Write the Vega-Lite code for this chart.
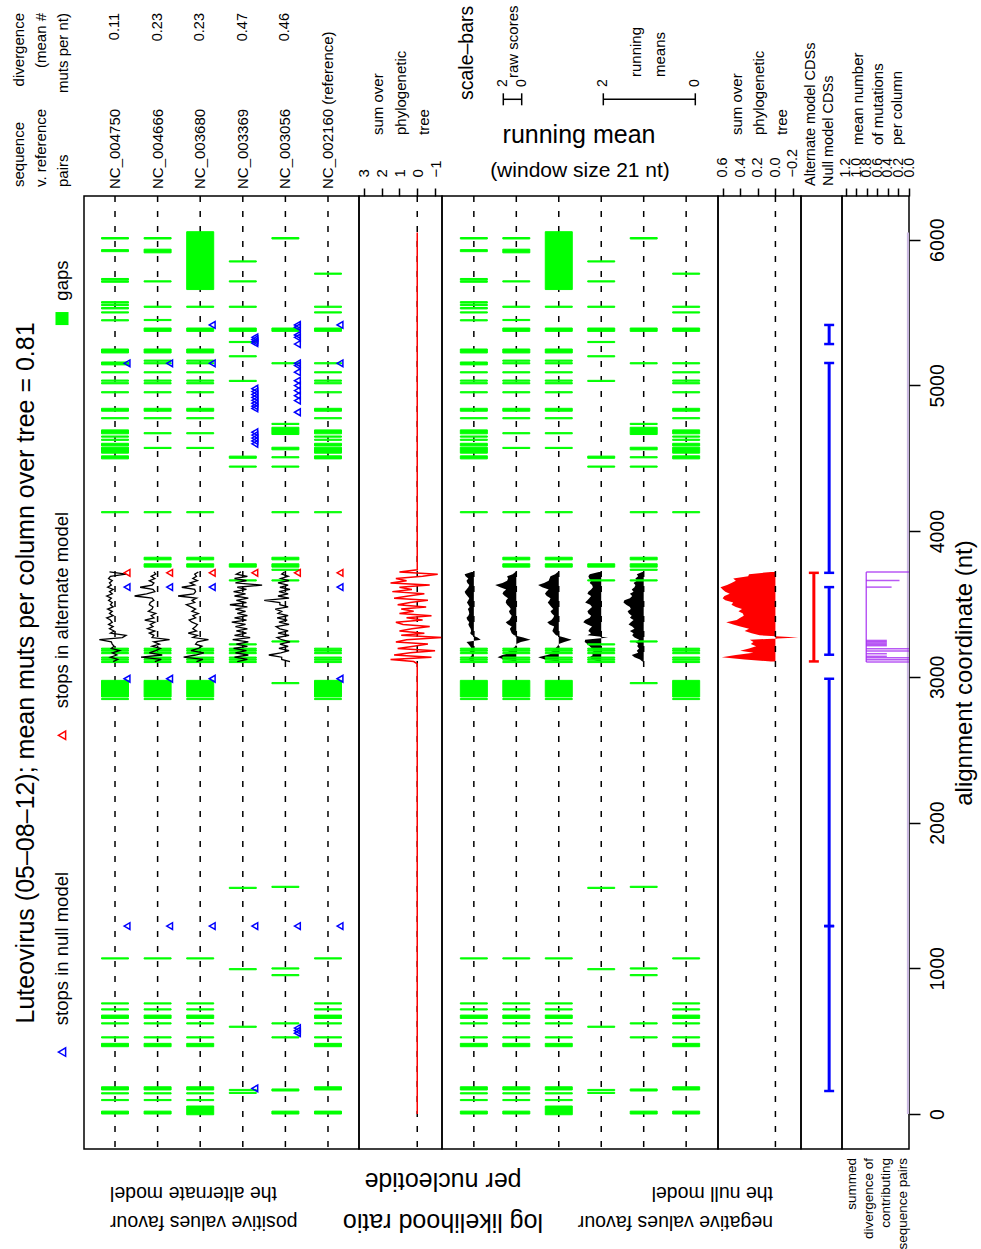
{
"$schema":"https://vega.github.io/schema/vega-lite/v6.json",
"padding":0,
"background":"white",
"columns":7,
"spacing":0,
"bounds":"flush",
"align":"each",
"config":{"font":"Liberation Sans","view":{"stroke":null},"axis":{"grid":false,"domain":false,"tickColor":"black","tickWidth":1.5,"labelColor":"black","labelFont":"Liberation Sans","titleFont":"Liberation Sans","titleColor":"black","titleFontWeight":"normal","labelOverlap":false,"labelFlush":false,"labelBound":false},"text":{"color":"black","font":"Liberation Sans"}},
"datasets":{
"one":[{}],
"rawbar":[{"lo":0,"hi":2}],
"meanbar":[{"lo":0,"hi":2}],
"tracks":[{"seq":"NC_004750","label":"NC_004750","div":"0.11"},{"seq":"NC_004666","label":"NC_004666","div":"0.23"},{"seq":"NC_003680","label":"NC_003680","div":"0.23"},{"seq":"NC_003369","label":"NC_003369","div":"0.47"},{"seq":"NC_003056","label":"NC_003056","div":"0.46"},{"seq":"NC_002160","label":"NC_002160 (reference)","div":""}],
"gaps":[
{"seq":"NC_004750","s":6005,"e":6015},{"seq":"NC_004750","s":5918,"e":5932},{"seq":"NC_004750","s":5724,"e":5734},{"seq":"NC_004750","s":5708,"e":5718},{"seq":"NC_004750","s":5565,"e":5575},{"seq":"NC_004750","s":5548,"e":5556},{"seq":"NC_004750","s":5525,"e":5535},{"seq":"NC_004750","s":5497,"e":5505},{"seq":"NC_004750","s":5443,"e":5451},{"seq":"NC_004750","s":5223,"e":5250},{"seq":"NC_004750","s":5141,"e":5161},{"seq":"NC_004750","s":5086,"e":5094},{"seq":"NC_004750","s":5029,"e":5037},{"seq":"NC_004750","s":5011,"e":5019},{"seq":"NC_004750","s":4949,"e":4957},{"seq":"NC_004750","s":4823,"e":4843},{"seq":"NC_004750","s":4771,"e":4779},{"seq":"NC_004750","s":4668,"e":4695},{"seq":"NC_004750","s":4645,"e":4653},{"seq":"NC_004750","s":4623,"e":4631},{"seq":"NC_004750","s":4585,"e":4603},{"seq":"NC_004750","s":4535,"e":4576},{"seq":"NC_004750","s":4496,"e":4517},{"seq":"NC_004750","s":4126,"e":4134},{"seq":"NC_004750","s":3189,"e":3197},{"seq":"NC_004750","s":3176,"e":3184},{"seq":"NC_004750","s":3159,"e":3167},{"seq":"NC_004750","s":3128,"e":3136},{"seq":"NC_004750","s":3114,"e":3122},{"seq":"NC_004750","s":3098,"e":3106},{"seq":"NC_004750","s":2862,"e":2976},{"seq":"NC_004750","s":2844,"e":2852},{"seq":"NC_004750","s":1064,"e":1072},{"seq":"NC_004750","s":755,"e":763},{"seq":"NC_004750","s":714,"e":722},{"seq":"NC_004750","s":656,"e":679},{"seq":"NC_004750","s":618,"e":626},{"seq":"NC_004750","s":522,"e":530},{"seq":"NC_004750","s":462,"e":485},{"seq":"NC_004750","s":165,"e":187},{"seq":"NC_004750","s":138,"e":146},{"seq":"NC_004750","s":92,"e":100},{"seq":"NC_004750","s":0,"e":20},
{"seq":"NC_004666","s":6005,"e":6015},{"seq":"NC_004666","s":5910,"e":5935},{"seq":"NC_004666","s":5710,"e":5718},{"seq":"NC_004666","s":5536,"e":5544},{"seq":"NC_004666","s":5445,"e":5453},{"seq":"NC_004666","s":5371,"e":5394},{"seq":"NC_004666","s":5223,"e":5250},{"seq":"NC_004666","s":5166,"e":5174},{"seq":"NC_004666","s":5148,"e":5156},{"seq":"NC_004666","s":5086,"e":5094},{"seq":"NC_004666","s":5029,"e":5037},{"seq":"NC_004666","s":5011,"e":5019},{"seq":"NC_004666","s":4949,"e":4957},{"seq":"NC_004666","s":4823,"e":4843},{"seq":"NC_004666","s":4771,"e":4779},{"seq":"NC_004666","s":4668,"e":4676},{"seq":"NC_004666","s":4567,"e":4575},{"seq":"NC_004666","s":4126,"e":4134},{"seq":"NC_004666","s":3803,"e":3821},{"seq":"NC_004666","s":3753,"e":3776},{"seq":"NC_004666","s":3189,"e":3197},{"seq":"NC_004666","s":3176,"e":3184},{"seq":"NC_004666","s":3159,"e":3167},{"seq":"NC_004666","s":3128,"e":3136},{"seq":"NC_004666","s":3114,"e":3122},{"seq":"NC_004666","s":3098,"e":3106},{"seq":"NC_004666","s":2862,"e":2976},{"seq":"NC_004666","s":2844,"e":2852},{"seq":"NC_004666","s":1064,"e":1072},{"seq":"NC_004666","s":755,"e":763},{"seq":"NC_004666","s":714,"e":722},{"seq":"NC_004666","s":656,"e":679},{"seq":"NC_004666","s":618,"e":626},{"seq":"NC_004666","s":522,"e":530},{"seq":"NC_004666","s":462,"e":485},{"seq":"NC_004666","s":165,"e":187},{"seq":"NC_004666","s":138,"e":146},{"seq":"NC_004666","s":92,"e":100},{"seq":"NC_004666","s":0,"e":20},
{"seq":"NC_003680","s":5658,"e":6055},{"seq":"NC_003680","s":5536,"e":5544},{"seq":"NC_003680","s":5371,"e":5394},{"seq":"NC_003680","s":5223,"e":5250},{"seq":"NC_003680","s":5166,"e":5174},{"seq":"NC_003680","s":5148,"e":5156},{"seq":"NC_003680","s":5086,"e":5094},{"seq":"NC_003680","s":5029,"e":5037},{"seq":"NC_003680","s":5011,"e":5019},{"seq":"NC_003680","s":4949,"e":4957},{"seq":"NC_003680","s":4823,"e":4843},{"seq":"NC_003680","s":4771,"e":4779},{"seq":"NC_003680","s":4668,"e":4676},{"seq":"NC_003680","s":4567,"e":4575},{"seq":"NC_003680","s":4126,"e":4134},{"seq":"NC_003680","s":3803,"e":3821},{"seq":"NC_003680","s":3753,"e":3776},{"seq":"NC_003680","s":3189,"e":3197},{"seq":"NC_003680","s":3176,"e":3184},{"seq":"NC_003680","s":3159,"e":3167},{"seq":"NC_003680","s":3128,"e":3136},{"seq":"NC_003680","s":3114,"e":3122},{"seq":"NC_003680","s":3098,"e":3106},{"seq":"NC_003680","s":2862,"e":2976},{"seq":"NC_003680","s":2844,"e":2852},{"seq":"NC_003680","s":1064,"e":1072},{"seq":"NC_003680","s":755,"e":763},{"seq":"NC_003680","s":714,"e":722},{"seq":"NC_003680","s":656,"e":679},{"seq":"NC_003680","s":618,"e":626},{"seq":"NC_003680","s":522,"e":530},{"seq":"NC_003680","s":462,"e":485},{"seq":"NC_003680","s":165,"e":187},{"seq":"NC_003680","s":138,"e":146},{"seq":"NC_003680","s":92,"e":100},{"seq":"NC_003680","s":-5,"e":55},
{"seq":"NC_003369","s":5847,"e":5855},{"seq":"NC_003369","s":5710,"e":5718},{"seq":"NC_003369","s":5536,"e":5544},{"seq":"NC_003369","s":5371,"e":5394},{"seq":"NC_003369","s":5294,"e":5302},{"seq":"NC_003369","s":5196,"e":5204},{"seq":"NC_003369","s":5027,"e":5035},{"seq":"NC_003369","s":4500,"e":4515},{"seq":"NC_003369","s":4439,"e":4447},{"seq":"NC_003369","s":3753,"e":3776},{"seq":"NC_003369","s":3658,"e":3666},{"seq":"NC_003369","s":3219,"e":3227},{"seq":"NC_003369","s":3189,"e":3197},{"seq":"NC_003369","s":3176,"e":3184},{"seq":"NC_003369","s":3159,"e":3167},{"seq":"NC_003369","s":3128,"e":3136},{"seq":"NC_003369","s":3114,"e":3122},{"seq":"NC_003369","s":3098,"e":3106},{"seq":"NC_003369","s":1548,"e":1556},{"seq":"NC_003369","s":990,"e":998},{"seq":"NC_003369","s":595,"e":603},{"seq":"NC_003369","s":161,"e":169},{"seq":"NC_003369","s":141,"e":149},
{"seq":"NC_003056","s":6005,"e":6015},{"seq":"NC_003056","s":5371,"e":5394},{"seq":"NC_003056","s":5148,"e":5156},{"seq":"NC_003056","s":4732,"e":4740},{"seq":"NC_003056","s":4663,"e":4713},{"seq":"NC_003056","s":4558,"e":4576},{"seq":"NC_003056","s":4503,"e":4511},{"seq":"NC_003056","s":4439,"e":4447},{"seq":"NC_003056","s":4126,"e":4134},{"seq":"NC_003056","s":3803,"e":3821},{"seq":"NC_003056","s":3753,"e":3776},{"seq":"NC_003056","s":3731,"e":3739},{"seq":"NC_003056","s":3658,"e":3666},{"seq":"NC_003056","s":3239,"e":3247},{"seq":"NC_003056","s":2953,"e":2961},{"seq":"NC_003056","s":1555,"e":1563},{"seq":"NC_003056","s":995,"e":1003},{"seq":"NC_003056","s":949,"e":957},{"seq":"NC_003056","s":618,"e":626},{"seq":"NC_003056","s":522,"e":530},{"seq":"NC_003056","s":158,"e":172},{"seq":"NC_003056","s":0,"e":20},
{"seq":"NC_002160","s":5763,"e":5771},{"seq":"NC_002160","s":5536,"e":5544},{"seq":"NC_002160","s":5497,"e":5505},{"seq":"NC_002160","s":5371,"e":5394},{"seq":"NC_002160","s":5148,"e":5156},{"seq":"NC_002160","s":5086,"e":5094},{"seq":"NC_002160","s":5029,"e":5037},{"seq":"NC_002160","s":5011,"e":5019},{"seq":"NC_002160","s":4949,"e":4957},{"seq":"NC_002160","s":4823,"e":4843},{"seq":"NC_002160","s":4771,"e":4779},{"seq":"NC_002160","s":4668,"e":4695},{"seq":"NC_002160","s":4645,"e":4653},{"seq":"NC_002160","s":4623,"e":4631},{"seq":"NC_002160","s":4585,"e":4603},{"seq":"NC_002160","s":4535,"e":4576},{"seq":"NC_002160","s":4496,"e":4517},{"seq":"NC_002160","s":4126,"e":4134},{"seq":"NC_002160","s":3189,"e":3197},{"seq":"NC_002160","s":3176,"e":3184},{"seq":"NC_002160","s":3159,"e":3167},{"seq":"NC_002160","s":3128,"e":3136},{"seq":"NC_002160","s":3114,"e":3122},{"seq":"NC_002160","s":3098,"e":3106},{"seq":"NC_002160","s":2862,"e":2976},{"seq":"NC_002160","s":2844,"e":2852},{"seq":"NC_002160","s":1064,"e":1072},{"seq":"NC_002160","s":755,"e":763},{"seq":"NC_002160","s":714,"e":722},{"seq":"NC_002160","s":656,"e":679},{"seq":"NC_002160","s":618,"e":626},{"seq":"NC_002160","s":522,"e":530},{"seq":"NC_002160","s":462,"e":485},{"seq":"NC_002160","s":165,"e":187},{"seq":"NC_002160","s":0,"e":20}
],
"stops":[
{"seq":"NC_004750","pos":5152,"m":"null"},{"seq":"NC_004750","pos":3616,"m":"null"},{"seq":"NC_004750","pos":2987,"m":"null"},{"seq":"NC_004750","pos":1290,"m":"null"},{"seq":"NC_004750","pos":3714,"m":"alt"},
{"seq":"NC_004666","pos":5152,"m":"null"},{"seq":"NC_004666","pos":3616,"m":"null"},{"seq":"NC_004666","pos":2987,"m":"null"},{"seq":"NC_004666","pos":1290,"m":"null"},{"seq":"NC_004666","pos":3714,"m":"alt"},
{"seq":"NC_003680","pos":5415,"m":"null"},{"seq":"NC_003680","pos":5152,"m":"null"},{"seq":"NC_003680","pos":3616,"m":"null"},{"seq":"NC_003680","pos":2987,"m":"null"},{"seq":"NC_003680","pos":1290,"m":"null"},{"seq":"NC_003680","pos":3714,"m":"alt"},
{"seq":"NC_003369","pos":5330,"m":"null"},{"seq":"NC_003369","pos":5316,"m":"null"},{"seq":"NC_003369","pos":5302,"m":"null"},{"seq":"NC_003369","pos":5290,"m":"null"},{"seq":"NC_003369","pos":4978,"m":"null"},{"seq":"NC_003369","pos":4958,"m":"null"},{"seq":"NC_003369","pos":4938,"m":"null"},{"seq":"NC_003369","pos":4918,"m":"null"},{"seq":"NC_003369","pos":4898,"m":"null"},{"seq":"NC_003369","pos":4878,"m":"null"},{"seq":"NC_003369","pos":4858,"m":"null"},{"seq":"NC_003369","pos":4842,"m":"null"},{"seq":"NC_003369","pos":4679,"m":"null"},{"seq":"NC_003369","pos":4659,"m":"null"},{"seq":"NC_003369","pos":4639,"m":"null"},{"seq":"NC_003369","pos":4619,"m":"null"},{"seq":"NC_003369","pos":4599,"m":"null"},{"seq":"NC_003369","pos":1290,"m":"null"},{"seq":"NC_003369","pos":176,"m":"null"},{"seq":"NC_003369","pos":3714,"m":"alt"},
{"seq":"NC_003056","pos":5415,"m":"null"},{"seq":"NC_003056","pos":5400,"m":"null"},{"seq":"NC_003056","pos":5346,"m":"null"},{"seq":"NC_003056","pos":5330,"m":"null"},{"seq":"NC_003056","pos":5284,"m":"null"},{"seq":"NC_003056","pos":5152,"m":"null"},{"seq":"NC_003056","pos":5136,"m":"null"},{"seq":"NC_003056","pos":5091,"m":"null"},{"seq":"NC_003056","pos":5033,"m":"null"},{"seq":"NC_003056","pos":4999,"m":"null"},{"seq":"NC_003056","pos":4965,"m":"null"},{"seq":"NC_003056","pos":4930,"m":"null"},{"seq":"NC_003056","pos":4896,"m":"null"},{"seq":"NC_003056","pos":4816,"m":"null"},{"seq":"NC_003056","pos":1290,"m":"null"},{"seq":"NC_003056","pos":590,"m":"null"},{"seq":"NC_003056","pos":572,"m":"null"},{"seq":"NC_003056","pos":555,"m":"null"},{"seq":"NC_003056","pos":3714,"m":"alt"},
{"seq":"NC_002160","pos":5415,"m":"null"},{"seq":"NC_002160","pos":5152,"m":"null"},{"seq":"NC_002160","pos":3616,"m":"null"},{"seq":"NC_002160","pos":2987,"m":"null"},{"seq":"NC_002160","pos":1290,"m":"null"},{"seq":"NC_002160","pos":3714,"m":"alt"}
],
"scores":[
{"pos":3105,"r1":0.2,"r2":0.3,"r3":0.4,"r4":0.6,"r5":-0.5,"m1":0.05,"m2":0.02,"m3":0.02,"m4":0.05,"m5":0.03,"ms":0.05},
{"pos":3120,"r1":-0.3,"r2":-0.4,"r3":-0.3,"r4":-0.5,"r5":0.4,"m1":0.12,"m2":0.25,"m3":0.3,"m4":0.2,"m5":0.08,"ms":0.35},
{"pos":3135,"r1":0.5,"r2":1.8,"r3":1.8,"r4":0.9,"r5":0.4,"m1":0.08,"m2":0.41,"m3":0.45,"m4":0.25,"m5":0.2,"ms":0.61},
{"pos":3150,"r1":-0.2,"r2":-0.5,"r3":0.5,"r4":-0.6,"r5":1.8,"m1":0.04,"m2":0.3,"m3":0.25,"m4":0.18,"m5":0.26,"ms":0.45},
{"pos":3165,"r1":0.3,"r2":0.9,"r3":-0.4,"r4":0.8,"r5":0.5,"m1":0.06,"m2":0.12,"m3":0.1,"m4":0.22,"m5":0.12,"ms":0.25},
{"pos":3180,"r1":-0.5,"r2":0.2,"r3":1.0,"r4":-0.4,"r5":-0.4,"m1":0.1,"m2":0.2,"m3":0.18,"m4":0.15,"m5":0.15,"ms":0.4},
{"pos":3195,"r1":0.4,"r2":-0.3,"r3":0.2,"r4":1.0,"r5":0.7,"m1":0.05,"m2":0.08,"m3":0.08,"m4":0.2,"m5":0.1,"ms":0.3},
{"pos":3210,"r1":0.1,"r2":0.6,"r3":-0.2,"r4":-0.5,"r5":-0.3,"m1":0.08,"m2":0.02,"m3":0.03,"m4":0.25,"m5":0.14,"ms":0.22},
{"pos":3225,"r1":0.3,"r2":-0.2,"r3":0.5,"r4":0.7,"r5":0.6,"m1":0.12,"m2":0.0,"m3":0.0,"m4":0.3,"m5":0.12,"ms":0.28},
{"pos":3240,"r1":0.4,"r2":0.4,"r3":0.3,"r4":-0.6,"r5":-0.5,"m1":0.16,"m2":-0.1,"m3":-0.12,"m4":0.36,"m5":0.18,"ms":0.25},
{"pos":3255,"r1":1.7,"r2":-1.3,"r3":-0.9,"r4":1.1,"r5":0.4,"m1":-0.15,"m2":-0.31,"m3":-0.28,"m4":0.35,"m5":0.1,"ms":0.29},
{"pos":3270,"r1":-0.8,"r2":0.6,"r3":0.8,"r4":-0.8,"r5":0.9,"m1":-0.08,"m2":-0.15,"m3":-0.12,"m4":-0.15,"m5":0.2,"ms":-0.26},
{"pos":3285,"r1":-1.2,"r2":0.4,"r3":0.3,"r4":0.9,"r5":-0.4,"m1":0.04,"m2":0.05,"m3":0.06,"m4":0.3,"m5":0.25,"ms":0.18},
{"pos":3300,"r1":0.5,"r2":0.9,"r3":1.3,"r4":-0.4,"r5":0.8,"m1":0.08,"m2":0.1,"m3":0.1,"m4":0.22,"m5":0.22,"ms":0.27},
{"pos":3315,"r1":0.1,"r2":0.3,"r3":0.4,"r4":0.7,"r5":-0.3,"m1":0.06,"m2":0.12,"m3":0.14,"m4":0.28,"m5":0.3,"ms":0.35},
{"pos":3330,"r1":0.6,"r2":1.1,"r3":0.8,"r4":-0.5,"r5":0.6,"m1":0.07,"m2":0.14,"m3":0.12,"m4":0.25,"m5":0.2,"ms":0.3},
{"pos":3345,"r1":0.2,"r2":0.5,"r3":0.5,"r4":0.8,"r5":1.0,"m1":0.1,"m2":0.1,"m3":0.1,"m4":0.2,"m5":0.25,"ms":0.4},
{"pos":3360,"r1":0.7,"r2":0.8,"r3":0.3,"r4":-0.3,"r5":-0.4,"m1":0.12,"m2":0.18,"m3":0.2,"m4":0.3,"m5":0.33,"ms":0.48},
{"pos":3375,"r1":0.3,"r2":0.3,"r3":0.9,"r4":1.2,"r5":0.7,"m1":0.1,"m2":0.23,"m3":0.25,"m4":0.39,"m5":0.28,"ms":0.56},
{"pos":3390,"r1":0.5,"r2":1.4,"r3":1.2,"r4":-0.4,"r5":-0.2,"m1":0.14,"m2":0.15,"m3":0.16,"m4":0.35,"m5":0.22,"ms":0.44},
{"pos":3405,"r1":0.9,"r2":0.4,"r3":0.5,"r4":0.9,"r5":0.9,"m1":0.16,"m2":0.12,"m3":0.12,"m4":0.25,"m5":0.3,"ms":0.4},
{"pos":3420,"r1":0.2,"r2":0.7,"r3":0.8,"r4":-0.5,"r5":-0.3,"m1":0.12,"m2":0.1,"m3":0.1,"m4":0.22,"m5":0.26,"ms":0.36},
{"pos":3435,"r1":0.6,"r2":0.2,"r3":0.2,"r4":0.6,"r5":0.8,"m1":0.1,"m2":0.14,"m3":0.15,"m4":0.28,"m5":0.32,"ms":0.37},
{"pos":3450,"r1":0.3,"r2":1.0,"r3":0.9,"r4":-0.3,"r5":0.4,"m1":0.11,"m2":0.16,"m3":0.18,"m4":0.3,"m5":0.35,"ms":0.42},
{"pos":3465,"r1":0.8,"r2":0.6,"r3":0.5,"r4":0.8,"r5":1.1,"m1":0.13,"m2":0.12,"m3":0.12,"m4":0.25,"m5":0.28,"ms":0.38},
{"pos":3480,"r1":0.2,"r2":0.5,"r3":1.0,"r4":-0.5,"r5":-0.3,"m1":0.09,"m2":0.15,"m3":0.16,"m4":0.2,"m5":0.3,"ms":0.45},
{"pos":3495,"r1":0.5,"r2":0.9,"r3":1.5,"r4":1.4,"r5":0.6,"m1":0.12,"m2":0.2,"m3":0.2,"m4":0.24,"m5":0.38,"ms":0.5},
{"pos":3510,"r1":0.3,"r2":0.8,"r3":0.6,"r4":-0.4,"r5":0.6,"m1":0.15,"m2":0.23,"m3":0.24,"m4":0.35,"m5":0.44,"ms":0.48},
{"pos":3525,"r1":0.7,"r2":0.4,"r3":0.9,"r4":0.7,"r5":2.3,"m1":0.12,"m2":0.22,"m3":0.2,"m4":0.3,"m5":0.42,"ms":0.57},
{"pos":3540,"r1":0.4,"r2":0.6,"r3":0.4,"r4":-0.6,"r5":-0.4,"m1":0.1,"m2":0.18,"m3":0.18,"m4":0.26,"m5":0.3,"ms":0.6},
{"pos":3555,"r1":0.9,"r2":2.5,"r3":2.4,"r4":0.9,"r5":0.8,"m1":0.14,"m2":0.25,"m3":0.26,"m4":0.22,"m5":0.25,"ms":0.58},
{"pos":3570,"r1":0.3,"r2":1.2,"r3":0.7,"r4":-0.3,"r5":-0.3,"m1":0.18,"m2":0.3,"m3":0.3,"m4":0.3,"m5":0.3,"ms":0.52},
{"pos":3585,"r1":0.6,"r2":0.3,"r3":0.5,"r4":1.0,"r5":0.7,"m1":0.2,"m2":0.28,"m3":0.27,"m4":0.28,"m5":0.22,"ms":0.57},
{"pos":3600,"r1":0.2,"r2":0.5,"r3":0.6,"r4":-0.4,"r5":-0.5,"m1":0.16,"m2":0.22,"m3":0.22,"m4":0.22,"m5":0.26,"ms":0.6},
{"pos":3615,"r1":0.8,"r2":1.9,"r3":2.0,"r4":0.6,"r5":0.6,"m1":0.12,"m2":0.35,"m3":0.36,"m4":0.18,"m5":0.2,"ms":0.625},
{"pos":3630,"r1":0.4,"r2":0.6,"r3":0.6,"r4":-2.1,"r5":-0.3,"m1":0.1,"m2":0.46,"m3":0.45,"m4":0.2,"m5":0.18,"ms":0.55},
{"pos":3645,"r1":0.6,"r2":0.4,"r3":1.1,"r4":0.8,"r5":0.8,"m1":0.14,"m2":0.3,"m3":0.32,"m4":0.25,"m5":0.22,"ms":0.5},
{"pos":3660,"r1":0.3,"r2":0.9,"r3":0.3,"r4":-0.4,"r5":-0.4,"m1":0.16,"m2":0.2,"m3":0.22,"m4":0.22,"m5":0.15,"ms":0.45},
{"pos":3675,"r1":0.7,"r2":0.3,"r3":0.8,"r4":0.9,"r5":0.5,"m1":0.12,"m2":0.18,"m3":0.2,"m4":0.26,"m5":0.18,"ms":0.48},
{"pos":3690,"r1":0.5,"r2":0.7,"r3":0.4,"r4":-0.5,"r5":-0.3,"m1":0.18,"m2":0.2,"m3":0.18,"m4":0.28,"m5":0.12,"ms":0.31},
{"pos":3705,"r1":-1.2,"r2":0.2,"r3":0.6,"r4":0.7,"r5":0.4,"m1":0.2,"m2":0.08,"m3":0.08,"m4":0.25,"m5":0.15,"ms":0.3},
{"pos":3720,"r1":0.6,"r2":0.4,"r3":0.2,"r4":0.2,"r5":0.1,"m1":0.05,"m2":0.02,"m3":0.02,"m4":0.05,"m5":0.03,"ms":0.05}
],
"sumline":[{"pos":0,"rs":0},{"pos":3090,"rs":0},{"pos":3105,"rs":0.2},{"pos":3120,"rs":1.5},{"pos":3135,"rs":-0.8},{"pos":3150,"rs":1.3},{"pos":3165,"rs":0.4},{"pos":3180,"rs":-1.0},{"pos":3195,"rs":1.1},{"pos":3210,"rs":0.2},{"pos":3225,"rs":-0.6},{"pos":3240,"rs":1.2},{"pos":3255,"rs":0.6},{"pos":3270,"rs":-1.4},{"pos":3285,"rs":0.9},{"pos":3300,"rs":-0.4},{"pos":3315,"rs":1.0},{"pos":3330,"rs":0.3},{"pos":3345,"rs":-0.7},{"pos":3360,"rs":0.8},{"pos":3375,"rs":1.2},{"pos":3390,"rs":-0.3},{"pos":3405,"rs":0.6},{"pos":3420,"rs":-0.8},{"pos":3435,"rs":1.0},{"pos":3450,"rs":0.2},{"pos":3465,"rs":0.9},{"pos":3480,"rs":-0.5},{"pos":3495,"rs":1.1},{"pos":3510,"rs":0.4},{"pos":3525,"rs":-0.6},{"pos":3540,"rs":1.3},{"pos":3555,"rs":0.5},{"pos":3570,"rs":-0.4},{"pos":3585,"rs":1.4},{"pos":3600,"rs":0.3},{"pos":3615,"rs":1.0},{"pos":3630,"rs":-0.7},{"pos":3645,"rs":1.5},{"pos":3660,"rs":0.6},{"pos":3675,"rs":1.2},{"pos":3690,"rs":-0.3},{"pos":3705,"rs":-1.15},{"pos":3720,"rs":1.0},{"pos":3735,"rs":0},{"pos":6050,"rs":0}],
"cds":[{"model":"alt","s":3106,"e":3714},{"model":"null","s":158,"e":1290},{"model":"null","s":1290,"e":2987},{"model":"null","s":3152,"e":3616},{"model":"null","s":3714,"e":5154},{"model":"null","s":5284,"e":5415}],
"purple":[{"pos":3719,"a":0.81,"v":0},{"pos":3662,"a":0.81,"v":0.18},{"pos":3616,"a":0.81,"v":0.33},{"pos":3250,"a":0.81,"v":0.42},{"pos":3241,"a":0.81,"v":0.42},{"pos":3232,"a":0.81,"v":0.42},{"pos":3223,"a":0.81,"v":0.42},{"pos":3214,"a":0.81,"v":0.42},{"pos":3193,"a":0.81,"v":0},{"pos":3177,"a":0.81,"v":0},{"pos":3159,"a":0.81,"v":0.42},{"pos":3141,"a":0.81,"v":0.42},{"pos":3132,"a":0.81,"v":0},{"pos":3118,"a":0.81,"v":0},{"pos":3102,"a":0.81,"v":0}],
"purpleframe":[{"s":3102,"e":3719,"v":0.81}],
"strip":[{"s":0,"e":6050,"v":0.04,"z":0}]
},
"concat":[
{"width":84,"height":196,"data":{"name":"one"},"layer":[
 {"mark":{"type":"text","angle":270,"align":"left","baseline":"middle","fontSize":15,"lineHeight":22},"encoding":{"x":{"datum":18.5,"type":"quantitative","scale":{"domain":[0,84]},"axis":null},"y":{"datum":9,"type":"quantitative","scale":{"domain":[0,196]},"axis":null},"text":{"value":["sequence","v. reference","pairs"]}}},
 {"mark":{"type":"text","angle":270,"align":"right","baseline":"middle","fontSize":15,"lineHeight":22},"encoding":{"x":{"datum":18.5,"type":"quantitative","scale":{"domain":[0,84]},"axis":null},"y":{"datum":183,"type":"quantitative","scale":{"domain":[0,196]},"axis":null},"text":{"value":["divergence","(mean #","muts per nt)"]}}}
]},
{"width":275,"height":196,"data":{"name":"tracks"},"layer":[
 {"mark":{"type":"text","angle":270,"align":"left","baseline":"middle","fontSize":15},"encoding":{"x":{"field":"seq","type":"nominal","scale":{"type":"band","domain":["NC_004750","NC_004666","NC_003680","NC_003369","NC_003056","NC_002160"],"paddingInner":0.366,"paddingOuter":0.411},"axis":null},"y":{"datum":7,"type":"quantitative","scale":{"domain":[0,196]},"axis":null},"text":{"field":"label"}}},
 {"mark":{"type":"text","angle":270,"align":"right","baseline":"middle","fontSize":14.5},"encoding":{"x":{"field":"seq","type":"nominal","scale":{"type":"band","domain":["NC_004750","NC_004666","NC_003680","NC_003369","NC_003056","NC_002160"],"paddingInner":0.366,"paddingOuter":0.411},"axis":null},"y":{"datum":183,"type":"quantitative","scale":{"domain":[0,196]},"axis":null},"text":{"field":"div"}}}
]},
{"width":83,"height":196,"data":{"name":"one"},"mark":{"type":"text","angle":270,"align":"left","baseline":"middle","fontSize":15,"lineHeight":23},"encoding":{"x":{"datum":18.7,"type":"quantitative","scale":{"domain":[0,83]},"axis":null},"y":{"datum":61,"type":"quantitative","scale":{"domain":[0,196]},"axis":null},"text":{"value":["sum over","phylogenetic","tree"]}}},
{"width":276,"height":196,"resolve":{"scale":{"x":"independent"}},"layer":[
 {"data":{"name":"one"},"mark":{"type":"text","angle":270,"align":"left","baseline":"middle","fontSize":19.5},"encoding":{"x":{"datum":24.7,"type":"quantitative","scale":{"domain":[0,276]},"axis":null},"y":{"datum":96,"type":"quantitative","scale":{"domain":[0,196]},"axis":null},"text":{"value":"scale–bars"}}},
 {"data":{"name":"one"},"mark":{"type":"text","angle":270,"align":"left","baseline":"middle","fontSize":15},"encoding":{"x":{"datum":71,"type":"quantitative","scale":{"domain":[0,276]},"axis":null},"y":{"datum":118,"type":"quantitative","scale":{"domain":[0,196]},"axis":null},"text":{"value":"raw scores"}}},
 {"data":{"name":"one"},"mark":{"type":"text","angle":270,"align":"left","baseline":"middle","fontSize":15,"lineHeight":24},"encoding":{"x":{"datum":194,"type":"quantitative","scale":{"domain":[0,276]},"axis":null},"y":{"datum":119,"type":"quantitative","scale":{"domain":[0,196]},"axis":null},"text":{"value":["running","means"]}}},
 {"data":{"name":"one"},"mark":{"type":"text","align":"center","baseline":"middle","fontSize":25},"encoding":{"x":{"datum":137,"type":"quantitative","scale":{"domain":[0,276]},"axis":null},"y":{"datum":61,"type":"quantitative","scale":{"domain":[0,196]},"axis":null},"text":{"value":"running mean"}}},
 {"data":{"name":"one"},"mark":{"type":"text","align":"center","baseline":"middle","fontSize":21},"encoding":{"x":{"datum":138,"type":"quantitative","scale":{"domain":[0,276]},"axis":null},"y":{"datum":25,"type":"quantitative","scale":{"domain":[0,196]},"axis":null},"text":{"value":"(window size 21 nt)"}}},
 {"data":{"name":"rawbar"},"layer":[
  {"mark":{"type":"rule","strokeWidth":1.5,"color":"black"},"encoding":{"x":{"field":"hi","type":"quantitative","scale":{"domain":[-21.337,8.663],"reverse":true,"nice":false,"zero":false},"axis":null},"x2":{"field":"lo"},"y":{"datum":96.7,"type":"quantitative","scale":{"domain":[0,196]},"axis":null}}},
  {"mark":{"type":"tick","orient":"vertical","size":12,"thickness":1.5,"color":"black","opacity":1},"encoding":{"x":{"field":"hi","type":"quantitative","scale":{"domain":[-21.337,8.663],"reverse":true,"nice":false,"zero":false},"axis":null},"y":{"datum":96.7,"type":"quantitative","scale":{"domain":[0,196]},"axis":null}}},
  {"mark":{"type":"tick","orient":"vertical","size":12,"thickness":1.5,"color":"black","opacity":1},"encoding":{"x":{"field":"lo","type":"quantitative","scale":{"domain":[-21.337,8.663],"reverse":true,"nice":false,"zero":false},"axis":null},"y":{"datum":96.7,"type":"quantitative","scale":{"domain":[0,196]},"axis":null}}},
  {"mark":{"type":"text","angle":270,"align":"left","baseline":"middle","fontSize":14},"encoding":{"x":{"field":"hi","type":"quantitative","scale":{"domain":[-21.337,8.663],"reverse":true,"nice":false,"zero":false},"axis":null},"y":{"datum":109,"type":"quantitative","scale":{"domain":[0,196]},"axis":null},"text":{"field":"hi","type":"quantitative"}}},
  {"mark":{"type":"text","angle":270,"align":"left","baseline":"middle","fontSize":14},"encoding":{"x":{"field":"lo","type":"quantitative","scale":{"domain":[-21.337,8.663],"reverse":true,"nice":false,"zero":false},"axis":null},"y":{"datum":109,"type":"quantitative","scale":{"domain":[0,196]},"axis":null},"text":{"field":"lo","type":"quantitative"}}}
 ]},
 {"data":{"name":"meanbar"},"layer":[
  {"mark":{"type":"rule","strokeWidth":1.5,"color":"black"},"encoding":{"x":{"field":"hi","type":"quantitative","scale":{"domain":[-0.4935,5.507],"reverse":true,"nice":false,"zero":false},"axis":null},"x2":{"field":"lo"},"y":{"datum":96.7,"type":"quantitative","scale":{"domain":[0,196]},"axis":null}}},
  {"mark":{"type":"tick","orient":"vertical","size":12,"thickness":1.5,"color":"black","opacity":1},"encoding":{"x":{"field":"hi","type":"quantitative","scale":{"domain":[-0.4935,5.507],"reverse":true,"nice":false,"zero":false},"axis":null},"y":{"datum":96.7,"type":"quantitative","scale":{"domain":[0,196]},"axis":null}}},
  {"mark":{"type":"tick","orient":"vertical","size":12,"thickness":1.5,"color":"black","opacity":1},"encoding":{"x":{"field":"lo","type":"quantitative","scale":{"domain":[-0.4935,5.507],"reverse":true,"nice":false,"zero":false},"axis":null},"y":{"datum":96.7,"type":"quantitative","scale":{"domain":[0,196]},"axis":null}}},
  {"mark":{"type":"text","angle":270,"align":"left","baseline":"middle","fontSize":14},"encoding":{"x":{"field":"hi","type":"quantitative","scale":{"domain":[-0.4935,5.507],"reverse":true,"nice":false,"zero":false},"axis":null},"y":{"datum":109,"type":"quantitative","scale":{"domain":[0,196]},"axis":null},"text":{"field":"hi","type":"quantitative"}}},
  {"mark":{"type":"text","angle":270,"align":"left","baseline":"middle","fontSize":14},"encoding":{"x":{"field":"lo","type":"quantitative","scale":{"domain":[-0.4935,5.507],"reverse":true,"nice":false,"zero":false},"axis":null},"y":{"datum":109,"type":"quantitative","scale":{"domain":[0,196]},"axis":null},"text":{"field":"lo","type":"quantitative"}}}
 ]}
]},
{"width":83,"height":196,"data":{"name":"one"},"mark":{"type":"text","angle":270,"align":"left","baseline":"middle","fontSize":15,"lineHeight":22.5},"encoding":{"x":{"datum":18.7,"type":"quantitative","scale":{"domain":[0,83]},"axis":null},"y":{"datum":61,"type":"quantitative","scale":{"domain":[0,196]},"axis":null},"text":{"value":["sum over","phylogenetic","tree"]}}},
{"width":41,"height":196,"data":{"name":"one"},"layer":[
 {"mark":{"type":"text","angle":270,"align":"left","baseline":"middle","fontSize":14.5},"encoding":{"x":{"datum":10,"type":"quantitative","scale":{"domain":[0,41]},"axis":null},"y":{"datum":10,"type":"quantitative","scale":{"domain":[0,196]},"axis":null},"text":{"value":"Alternate model CDSs"}}},
 {"mark":{"type":"text","angle":270,"align":"left","baseline":"middle","fontSize":14.5},"encoding":{"x":{"datum":28,"type":"quantitative","scale":{"domain":[0,41]},"axis":null},"y":{"datum":10,"type":"quantitative","scale":{"domain":[0,196]},"axis":null},"text":{"value":"Null model CDSs"}}}
]},
{"width":67,"height":196,"data":{"name":"one"},"mark":{"type":"text","angle":270,"align":"left","baseline":"middle","fontSize":15,"lineHeight":19.5},"encoding":{"x":{"datum":16,"type":"quantitative","scale":{"domain":[0,67]},"axis":null},"y":{"datum":51,"type":"quantitative","scale":{"domain":[0,196]},"axis":null},"text":{"value":["mean number","of mutations","per column"]}}},

{"width":84,"height":953,"data":{"name":"one"},"layer":[
 {"mark":{"type":"text","angle":270,"align":"center","baseline":"middle","fontSize":25},"encoding":{"x":{"datum":26,"type":"quantitative","scale":{"domain":[0,84]},"axis":null},"y":{"datum":3027,"type":"quantitative","scale":{"domain":[-240,6300],"nice":false,"zero":false},"axis":null},"text":{"value":"Luteovirus (05–08–12); mean muts per column over tree = 0.81"}}},
 {"mark":{"type":"point","shape":"triangle-left","filled":false,"size":70,"strokeWidth":1.5,"color":"#0000ff","opacity":1},"encoding":{"x":{"datum":62,"type":"quantitative","scale":{"domain":[0,84]},"axis":null},"y":{"datum":425,"type":"quantitative","scale":{"domain":[-240,6300],"nice":false,"zero":false},"axis":null}}},
 {"mark":{"type":"text","angle":270,"align":"left","baseline":"middle","fontSize":18.5},"encoding":{"x":{"datum":62,"type":"quantitative","scale":{"domain":[0,84]},"axis":null},"y":{"datum":610,"type":"quantitative","scale":{"domain":[-240,6300],"nice":false,"zero":false},"axis":null},"text":{"value":"stops in null model"}}},
 {"mark":{"type":"point","shape":"triangle-left","filled":false,"size":70,"strokeWidth":1.5,"color":"#ff0000","opacity":1},"encoding":{"x":{"datum":62,"type":"quantitative","scale":{"domain":[0,84]},"axis":null},"y":{"datum":2599,"type":"quantitative","scale":{"domain":[-240,6300],"nice":false,"zero":false},"axis":null}}},
 {"mark":{"type":"text","angle":270,"align":"left","baseline":"middle","fontSize":18.5},"encoding":{"x":{"datum":62,"type":"quantitative","scale":{"domain":[0,84]},"axis":null},"y":{"datum":2784,"type":"quantitative","scale":{"domain":[-240,6300],"nice":false,"zero":false},"axis":null},"text":{"value":"stops in alternate model"}}},
 {"mark":{"type":"point","shape":"square","filled":true,"size":170,"color":"#00ff00","opacity":1},"encoding":{"x":{"datum":62,"type":"quantitative","scale":{"domain":[0,84]},"axis":null},"y":{"datum":5459,"type":"quantitative","scale":{"domain":[-240,6300],"nice":false,"zero":false},"axis":null}}},
 {"mark":{"type":"text","angle":270,"align":"left","baseline":"middle","fontSize":18.5},"encoding":{"x":{"datum":62,"type":"quantitative","scale":{"domain":[0,84]},"axis":null},"y":{"datum":5582,"type":"quantitative","scale":{"domain":[-240,6300],"nice":false,"zero":false},"axis":null},"text":{"value":"gaps"}}}
]},
{"width":275,"height":953,"view":{"stroke":"black","strokeWidth":1.5},"resolve":{"scale":{"x":"independent"}},"layer":[
 {"data":{"name":"tracks"},"mark":{"type":"rule","strokeDash":[6,9],"strokeWidth":1.5,"color":"black"},"encoding":{"x":{"field":"seq","type":"nominal","scale":{"type":"band","domain":["NC_004750","NC_004666","NC_003680","NC_003369","NC_003056","NC_002160"],"paddingInner":0.366,"paddingOuter":0.411},"axis":null}}},
 {"data":{"name":"gaps"},"mark":{"type":"bar","color":"#00ff00","stroke":"#00ff00","strokeWidth":1},"encoding":{"x":{"field":"seq","type":"nominal","scale":{"type":"band","domain":["NC_004750","NC_004666","NC_003680","NC_003369","NC_003056","NC_002160"],"paddingInner":0.366,"paddingOuter":0.411},"axis":null},"y":{"field":"s","type":"quantitative","scale":{"domain":[-240,6300],"nice":false,"zero":false},"axis":null},"y2":{"field":"e"}}},
 {"data":{"name":"scores"},"mark":{"type":"line","color":"black","strokeWidth":1.3},"encoding":{"x":{"field":"r1","type":"quantitative","scale":{"domain":[-26.522,3.37],"reverse":true,"nice":false,"zero":false},"axis":null},"y":{"field":"pos","type":"quantitative","scale":{"domain":[-240,6300],"nice":false,"zero":false},"axis":null},"order":{"field":"pos","type":"quantitative"}}},
 {"data":{"name":"scores"},"mark":{"type":"line","color":"black","strokeWidth":1.3},"encoding":{"x":{"field":"r2","type":"quantitative","scale":{"domain":[-21.891,8.0],"reverse":true,"nice":false,"zero":false},"axis":null},"y":{"field":"pos","type":"quantitative","scale":{"domain":[-240,6300],"nice":false,"zero":false},"axis":null},"order":{"field":"pos","type":"quantitative"}}},
 {"data":{"name":"scores"},"mark":{"type":"line","color":"black","strokeWidth":1.3},"encoding":{"x":{"field":"r3","type":"quantitative","scale":{"domain":[-17.262,12.629],"reverse":true,"nice":false,"zero":false},"axis":null},"y":{"field":"pos","type":"quantitative","scale":{"domain":[-240,6300],"nice":false,"zero":false},"axis":null},"order":{"field":"pos","type":"quantitative"}}},
 {"data":{"name":"scores"},"mark":{"type":"line","color":"black","strokeWidth":1.3},"encoding":{"x":{"field":"r4","type":"quantitative","scale":{"domain":[-12.632,17.26],"reverse":true,"nice":false,"zero":false},"axis":null},"y":{"field":"pos","type":"quantitative","scale":{"domain":[-240,6300],"nice":false,"zero":false},"axis":null},"order":{"field":"pos","type":"quantitative"}}},
 {"data":{"name":"scores"},"mark":{"type":"line","color":"black","strokeWidth":1.3},"encoding":{"x":{"field":"r5","type":"quantitative","scale":{"domain":[-8.002,21.889],"reverse":true,"nice":false,"zero":false},"axis":null},"y":{"field":"pos","type":"quantitative","scale":{"domain":[-240,6300],"nice":false,"zero":false},"axis":null},"order":{"field":"pos","type":"quantitative"}}},
 {"data":{"name":"stops"},"mark":{"type":"point","shape":"triangle-left","filled":false,"size":45,"strokeWidth":1.5,"xOffset":12,"opacity":1},"encoding":{"x":{"field":"seq","type":"nominal","scale":{"type":"band","domain":["NC_004750","NC_004666","NC_003680","NC_003369","NC_003056","NC_002160"],"paddingInner":0.366,"paddingOuter":0.411},"axis":null},"y":{"field":"pos","type":"quantitative","scale":{"domain":[-240,6300],"nice":false,"zero":false},"axis":null},"color":{"field":"m","type":"nominal","scale":{"domain":["null","alt"],"range":["#0000ff","#ff0000"]},"legend":null}}}
]},
{"width":83,"height":953,"view":{"stroke":"black","strokeWidth":1.5},"layer":[
 {"data":{"name":"one"},"mark":{"type":"rule","strokeDash":[6,9],"strokeWidth":1.5,"color":"black"},"encoding":{"x":{"datum":0,"type":"quantitative","scale":{"domain":[-1.39,3.27],"reverse":true,"nice":false,"zero":false},"axis":{"orient":"top","values":[3,2,1,0,-1],"title":null,"labelAngle":270,"labelAlign":"left","labelBaseline":"middle","labelFontSize":15,"tickSize":8,"labelPadding":11}}}},
 {"data":{"name":"sumline"},"mark":{"type":"line","color":"#ff0000","strokeWidth":1.5},"encoding":{"x":{"field":"rs","type":"quantitative","scale":{"domain":[-1.39,3.27],"reverse":true,"nice":false,"zero":false},"axis":{"orient":"top","values":[3,2,1,0,-1],"title":null,"labelAngle":270,"labelAlign":"left","labelBaseline":"middle","labelFontSize":15,"tickSize":8,"labelPadding":11}},"y":{"field":"pos","type":"quantitative","scale":{"domain":[-240,6300],"nice":false,"zero":false},"axis":null},"order":{"field":"pos","type":"quantitative"}}}
]},
{"width":276,"height":953,"view":{"stroke":"black","strokeWidth":1.5},"resolve":{"scale":{"x":"independent"}},"layer":[
 {"data":{"name":"tracks"},"mark":{"type":"rule","strokeDash":[6,9],"strokeWidth":1.5,"color":"black"},"encoding":{"x":{"field":"seq","type":"nominal","scale":{"type":"band","domain":["NC_004750","NC_004666","NC_003680","NC_003369","NC_003056","NC_002160"],"paddingInner":0.364,"paddingOuter":0.432},"axis":null}}},
 {"data":{"name":"scores"},"mark":{"type":"area","orient":"horizontal","color":"black"},"encoding":{"x":{"field":"m1","type":"quantitative","scale":{"domain":[-5.3076,0.6924],"reverse":true,"nice":false,"zero":false},"axis":null},"y":{"field":"pos","type":"quantitative","scale":{"domain":[-240,6300],"nice":false,"zero":false},"axis":null}}},
 {"data":{"name":"scores"},"mark":{"type":"area","orient":"horizontal","color":"black"},"encoding":{"x":{"field":"m2","type":"quantitative","scale":{"domain":[-4.3846,1.6154],"reverse":true,"nice":false,"zero":false},"axis":null},"y":{"field":"pos","type":"quantitative","scale":{"domain":[-240,6300],"nice":false,"zero":false},"axis":null}}},
 {"data":{"name":"scores"},"mark":{"type":"area","orient":"horizontal","color":"black"},"encoding":{"x":{"field":"m3","type":"quantitative","scale":{"domain":[-3.4615,2.5385],"reverse":true,"nice":false,"zero":false},"axis":null},"y":{"field":"pos","type":"quantitative","scale":{"domain":[-240,6300],"nice":false,"zero":false},"axis":null}}},
 {"data":{"name":"scores"},"mark":{"type":"area","orient":"horizontal","color":"black"},"encoding":{"x":{"field":"m4","type":"quantitative","scale":{"domain":[-2.5385,3.4615],"reverse":true,"nice":false,"zero":false},"axis":null},"y":{"field":"pos","type":"quantitative","scale":{"domain":[-240,6300],"nice":false,"zero":false},"axis":null}}},
 {"data":{"name":"scores"},"mark":{"type":"area","orient":"horizontal","color":"black"},"encoding":{"x":{"field":"m5","type":"quantitative","scale":{"domain":[-1.6154,4.3846],"reverse":true,"nice":false,"zero":false},"axis":null},"y":{"field":"pos","type":"quantitative","scale":{"domain":[-240,6300],"nice":false,"zero":false},"axis":null}}},
 {"data":{"name":"gaps"},"mark":{"type":"bar","color":"#00ff00","stroke":"#00ff00","strokeWidth":1},"encoding":{"x":{"field":"seq","type":"nominal","scale":{"type":"band","domain":["NC_004750","NC_004666","NC_003680","NC_003369","NC_003056","NC_002160"],"paddingInner":0.364,"paddingOuter":0.432},"axis":null},"y":{"field":"s","type":"quantitative","scale":{"domain":[-240,6300],"nice":false,"zero":false},"axis":null},"y2":{"field":"e"}}}
]},
{"width":83,"height":953,"view":{"stroke":"black","strokeWidth":1.5},"layer":[
 {"data":{"name":"scores"},"mark":{"type":"area","orient":"horizontal","color":"#ff0000"},"encoding":{"x":{"field":"ms","type":"quantitative","scale":{"domain":[-0.291,0.653],"reverse":true,"nice":false,"zero":false},"axis":{"orient":"top","values":[0.6,0.4,0.2,0,-0.2],"format":".1f","title":null,"labelAngle":270,"labelAlign":"left","labelBaseline":"middle","labelFontSize":14.5,"tickSize":8,"labelPadding":11}},"y":{"field":"pos","type":"quantitative","scale":{"domain":[-240,6300],"nice":false,"zero":false},"axis":null}}},
 {"data":{"name":"one"},"mark":{"type":"rule","strokeDash":[6,9],"strokeWidth":1.5,"color":"black"},"encoding":{"x":{"datum":0,"type":"quantitative","scale":{"domain":[-0.291,0.653],"reverse":true,"nice":false,"zero":false},"axis":{"orient":"top","values":[0.6,0.4,0.2,0,-0.2],"format":".1f","title":null,"labelAngle":270,"labelAlign":"left","labelBaseline":"middle","labelFontSize":14.5,"tickSize":8,"labelPadding":11}}}}
]},
{"width":41,"height":953,"view":{"stroke":"black","strokeWidth":1.5},"data":{"name":"cds"},"layer":[
 {"mark":{"type":"rule","strokeWidth":3},"encoding":{"x":{"field":"model","type":"nominal","scale":{"type":"point","domain":["alt","null"],"padding":0.84},"axis":null},"y":{"field":"s","type":"quantitative","scale":{"domain":[-240,6300],"nice":false,"zero":false},"axis":null},"y2":{"field":"e"},"color":{"field":"model","type":"nominal","scale":{"domain":["alt","null"],"range":["#ff0000","#0000ff"]},"legend":null}}},
 {"mark":{"type":"tick","size":10,"thickness":2.5,"opacity":1},"encoding":{"x":{"field":"model","type":"nominal","scale":{"type":"point","domain":["alt","null"],"padding":0.84},"axis":null},"y":{"field":"s","type":"quantitative","scale":{"domain":[-240,6300],"nice":false,"zero":false},"axis":null},"color":{"field":"model","type":"nominal","scale":{"domain":["alt","null"],"range":["#ff0000","#0000ff"]},"legend":null}}},
 {"mark":{"type":"tick","size":10,"thickness":2.5,"opacity":1},"encoding":{"x":{"field":"model","type":"nominal","scale":{"type":"point","domain":["alt","null"],"padding":0.84},"axis":null},"y":{"field":"e","type":"quantitative","scale":{"domain":[-240,6300],"nice":false,"zero":false},"axis":null},"color":{"field":"model","type":"nominal","scale":{"domain":["alt","null"],"range":["#ff0000","#0000ff"]},"legend":null}}}
]},
{"width":67,"height":953,"view":{"stroke":"black","strokeWidth":1.5},"layer":[
 {"data":{"name":"strip"},"mark":{"type":"rect","color":"#c9b8e0"},"encoding":{"x":{"field":"v","type":"quantitative","scale":{"domain":[0,1.27],"reverse":true,"nice":false,"zero":false},"axis":{"orient":"top","values":[1.2,1,0.8,0.6,0.4,0.2,0],"format":".1f","title":null,"labelAngle":270,"labelAlign":"left","labelBaseline":"middle","labelFontSize":14,"tickSize":8,"labelPadding":11}},"x2":{"field":"z"},"y":{"field":"s","type":"quantitative","scale":{"domain":[-240,6300],"nice":false,"zero":false},"axis":{"orient":"right","values":[0,1000,2000,3000,4000,5000,6000],"format":"d","title":"alignment coordinate (nt)","labelAngle":270,"labelAlign":"center","labelBaseline":"top","labelFontSize":19.5,"tickSize":11,"labelPadding":8,"titleAngle":270,"titleBaseline":"top","titleFontSize":24,"titlePadding":6}},"y2":{"field":"e"}}},
 {"data":{"name":"purpleframe"},"mark":{"type":"rule","color":"#a020f0","strokeWidth":1.5,"opacity":0.75},"encoding":{"x":{"field":"v","type":"quantitative","scale":{"domain":[0,1.27],"reverse":true,"nice":false,"zero":false},"axis":{"orient":"top","values":[1.2,1,0.8,0.6,0.4,0.2,0],"format":".1f","title":null,"labelAngle":270,"labelAlign":"left","labelBaseline":"middle","labelFontSize":14,"tickSize":8,"labelPadding":11}},"y":{"field":"s","type":"quantitative","scale":{"domain":[-240,6300],"nice":false,"zero":false},"axis":{"orient":"right","values":[0,1000,2000,3000,4000,5000,6000],"format":"d","title":"alignment coordinate (nt)","labelAngle":270,"labelAlign":"center","labelBaseline":"top","labelFontSize":19.5,"tickSize":11,"labelPadding":8,"titleAngle":270,"titleBaseline":"top","titleFontSize":24,"titlePadding":6}},"y2":{"field":"e"}}},
 {"data":{"name":"purple"},"mark":{"type":"rule","color":"#a020f0","strokeWidth":1.5,"opacity":0.75},"encoding":{"x":{"field":"a","type":"quantitative","scale":{"domain":[0,1.27],"reverse":true,"nice":false,"zero":false},"axis":{"orient":"top","values":[1.2,1,0.8,0.6,0.4,0.2,0],"format":".1f","title":null,"labelAngle":270,"labelAlign":"left","labelBaseline":"middle","labelFontSize":14,"tickSize":8,"labelPadding":11}},"x2":{"field":"v"},"y":{"field":"pos","type":"quantitative","scale":{"domain":[-240,6300],"nice":false,"zero":false},"axis":{"orient":"right","values":[0,1000,2000,3000,4000,5000,6000],"format":"d","title":"alignment coordinate (nt)","labelAngle":270,"labelAlign":"center","labelBaseline":"top","labelFontSize":19.5,"tickSize":11,"labelPadding":8,"titleAngle":270,"titleBaseline":"top","titleFontSize":24,"titlePadding":6}}}}
]},

{"width":84,"height":100,"data":{"name":"one"},"mark":{"type":"text"},"encoding":{"text":{"value":""}}},
{"width":275,"height":100,"data":{"name":"one"},"mark":{"type":"text","angle":180,"align":"right","baseline":"middle","fontSize":19.5,"lineHeight":29},"encoding":{"x":{"datum":26,"type":"quantitative","scale":{"domain":[0,275]},"axis":null},"y":{"datum":27,"type":"quantitative","scale":{"domain":[0,100]},"axis":null},"text":{"value":["positive values favour","the alternate model"]}}},
{"width":83,"height":100,"data":{"name":"one"},"mark":{"type":"text","angle":180,"align":"center","baseline":"middle","fontSize":25,"lineHeight":41},"encoding":{"x":{"datum":84,"type":"quantitative","scale":{"domain":[0,83]},"axis":null},"y":{"datum":27,"type":"quantitative","scale":{"domain":[0,100]},"axis":null},"text":{"value":["log likelihood ratio","per nucleotide"]}}},
{"width":276,"height":100,"data":{"name":"one"},"mark":{"type":"text"},"encoding":{"text":{"value":""}}},
{"width":83,"height":100,"data":{"name":"one"},"mark":{"type":"text","angle":180,"align":"left","baseline":"middle","fontSize":19.5,"lineHeight":29},"encoding":{"x":{"datum":55,"type":"quantitative","scale":{"domain":[0,83]},"axis":null},"y":{"datum":27,"type":"quantitative","scale":{"domain":[0,100]},"axis":null},"text":{"value":["negative values favour","the null model"]}}},
{"width":41,"height":100,"data":{"name":"one"},"mark":{"type":"text"},"encoding":{"text":{"value":""}}},
{"width":67,"height":100,"data":{"name":"one"},"mark":{"type":"text","angle":270,"align":"right","baseline":"middle","fontSize":13.5,"lineHeight":17},"encoding":{"x":{"datum":9.7,"type":"quantitative","scale":{"domain":[0,67]},"axis":null},"y":{"datum":91,"type":"quantitative","scale":{"domain":[0,100]},"axis":null},"text":{"value":["summed","divergence of","contributing","sequence pairs"]}}}
]
}
